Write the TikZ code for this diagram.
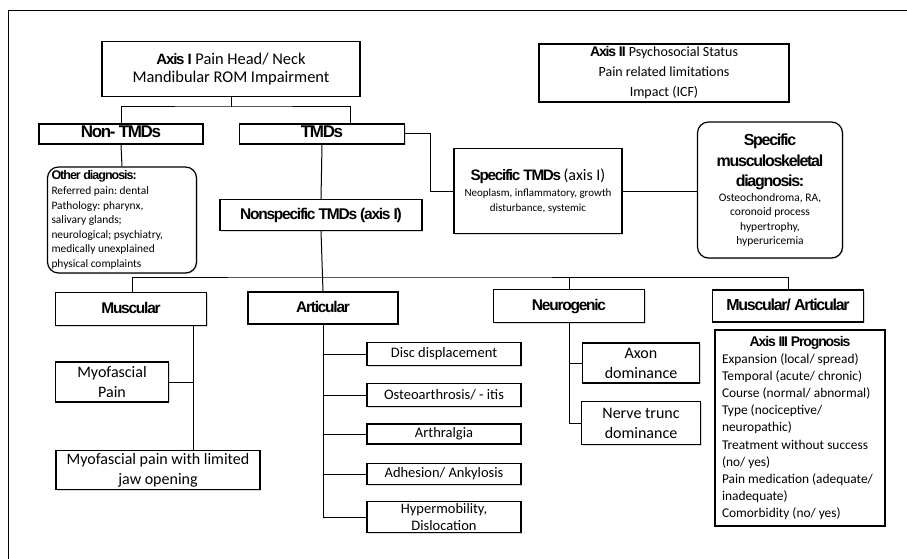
\documentclass[tikz,border=0pt]{standalone}
\usepackage{fontspec}
\setmainfont{Carlito}
\newfontfamily\hfont[LetterSpace=-8]{Liberation Sans}
\usetikzlibrary{positioning,shadows}
\newcommand{\hd}[2]{{\hfont\bfseries\fontsize{#1}{#1}\selectfont #2}}
\frenchspacing

\begin{document}
\begin{tikzpicture}[x=1pt,y=-1pt,line width=1pt,
  box/.style={draw,line width=1.2pt,fill=white,align=center,inner sep=1pt,
    drop shadow={shadow xshift=1pt,shadow yshift=-1pt,opacity=0.3},
    font=\fontsize{16}{20}\selectfont},
  headbox/.style={box,text height=11pt,text depth=3pt,font=\hfont\bfseries\fontsize{15.5}{17}\selectfont},
  roundbox/.style={box,rounded corners=11pt}]
\useasboundingbox (0,0) rectangle (907,559);
\draw (8,559) -- (8,11) -- (907,11);

% axis I and II
\node[box,minimum width=258,minimum height=55,font=\fontsize{16.4}{17.5}\selectfont] (axisI) at (231,69)
  {\hd{15}{Axis I} Pain Head/ Neck\\Mandibular ROM Impairment};
\node[box,minimum width=250,minimum height=58,font=\fontsize{14}{20}\selectfont] (axisII) at (664,73)
  {\hd{14}{Axis II} Psychosocial Status\\Pain related limitations\\Impact (ICF)};

\node[headbox,minimum width=164,minimum height=20,font=\hfont\bfseries\fontsize{17}{17}\selectfont] (nontmd) at (121,134) {Non- TMDs};
\node[headbox,minimum width=165,minimum height=20,font=\hfont\bfseries\fontsize{17}{17}\selectfont] (tmd) at (322,134) {TMDs};
\node[roundbox,minimum width=149,minimum height=106,text width=141,align=flush left,inner sep=2pt,
  font=\fontsize{11.4}{14.6}\selectfont] (other) at (122,220)
  {\hd{12.5}{Other diagnosis:}\\Referred pain: dental\\Pathology: pharynx,\\salivary glands;\\
   neurological; psychiatry,\\medically unexplained\\physical complaints};
\node[headbox,minimum width=202,minimum height=31] (nonspec) at (321,215) {Nonspecific TMDs (axis I)};
\node[box,minimum width=168,minimum height=85,font=\fontsize{11}{15}\selectfont] (spec) at (538,191)
  {\hd{15.2}{Specific TMDs} {\fontsize{16}{18}\selectfont (axis I)}\\[1pt]
   Neoplasm, inflammatory, growth\\disturbance, systemic};
\node[roundbox,minimum width=145,minimum height=136,font=\fontsize{11.5}{14.5}\selectfont] (msk) at (770,190)
  {\hd{16}{Specific}\\[5.5pt]\hd{16}{musculoskeletal}\\[5.5pt]\hd{16}{diagnosis:}\\
   Osteochondroma, RA,\\coronoid process\\hypertrophy,\\hyperuricemia};

% second level
\node[headbox,minimum width=151,minimum height=33] (muscular) at (131,309) {Muscular};
\node[headbox,minimum width=150,minimum height=32] (articular) at (323,308) {Articular};
\node[headbox,minimum width=151,minimum height=33] (neuro) at (569,306) {Neurogenic};
\node[headbox,minimum width=151,minimum height=32,font=\hfont\bfseries\fontsize{16}{17}\selectfont] (musart) at (788,306) {Muscular/ Articular};
\node[box,minimum width=170,minimum height=196,text width=156,align=flush left,
  font=\fontsize{13.4}{17.1}\selectfont] (axisIII) at (800,428)
  {{\centering\hd{14}{Axis III Prognosis}\par}
   Expansion (local/ spread)\\Temporal (acute/ chronic)\\Course (normal/ abnormal)\\Type (nociceptive/\\neuropathic)\\
   Treatment without success\\(no/ yes)\\Pain medication (adequate/\\inadequate)\\Comorbidity (no/ yes)};

\node[box,minimum width=113,minimum height=40] (myo) at (112,382) {Myofascial\\Pain};
\node[box,minimum width=204,minimum height=39] (myolim) at (158,470)
  {Myofascial pain with limited\\jaw opening};

\foreach \t/\y/\h [count=\n] in {Disc displacement/354/23,{Osteoarthrosis/ - itis}/395/23,Arthralgia/434/20,
    {Adhesion/ Ankylosis}/474/21,{Hypermobility,\\Dislocation}/517/31}
  \node[box,minimum width=154,minimum height=\h,font=\fontsize{14.5}{17}\selectfont] (A\n) at (444,\y) {\t};

\node[box,minimum width=117,minimum height=40] (axon) at (641,363) {Axon\\dominance};
\node[box,minimum width=119,minimum height=43] (nerve) at (641,423) {Nerve trunc\\dominance};

% connectors
\coordinate (j1) at (axisI.south |- 0,107);
\coordinate (j2) at (nonspec.south |- 0,277);
\draw (axisI.south) -- (j1);
\draw (nontmd.north) |- (j1) -| ([xshift=28pt]tmd.north);
\draw (nontmd.south) -- (other.north);
\draw (tmd.south) -- (nonspec.north);
\draw (tmd.east) -- ++(25,0) |- (spec.west);
\draw (spec.east) -- (spec.east -| msk.west);
\draw (nonspec.south) -- (articular.north);
\draw ([xshift=1pt]muscular.north) |- (j2) -| (musart.north);
\draw (neuro.north) -- (neuro.north |- j2);
\draw ([xshift=62pt]muscular.south) -- ([xshift=35pt]myolim.north);
\draw (myo.east) -- ++(24,0);
\draw (articular.south) |- (A5.west);
\foreach \n in {1,...,4}
  \draw (A\n.west) -- (A\n.west -| articular.south);
\draw (neuro.south) |- (nerve.west);
\draw (axon.west) -- (axon.west -| neuro.south);
\end{tikzpicture}
\end{document}
